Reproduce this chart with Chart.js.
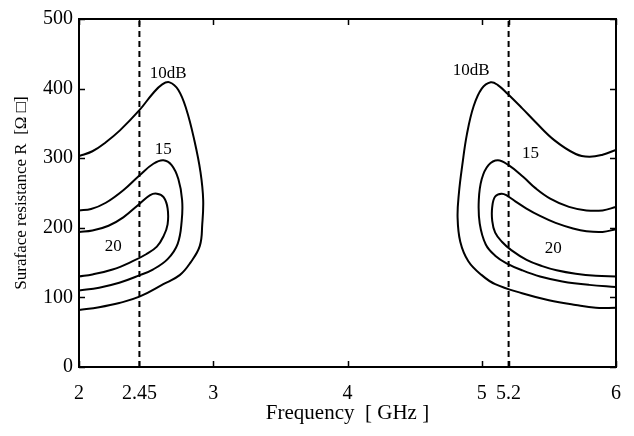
<!DOCTYPE html>
<html>
<head>
<meta charset="utf-8">
<script src="https://cdn.jsdelivr.net/npm/chart.js@4.4.1/dist/chart.umd.min.js"></script>
<style>
    html, body { margin: 0; padding: 0; background: #fff; }
    #contenedor { width: 634px; height: 436px; position: relative; }
</style>
</head>
<body>
<div id="contenedor"><canvas id="contornoChart"></canvas></div>
<script>
/**
 * Contornos de reflexion (10, 15, 20 dB) vs frecuencia y resistencia superficial
 */

// Ejes
const ticksFrecuencia = [2, 2.45, 3, 4, 5, 5.2, 6];
const ticksResistencia = [0, 100, 200, 300, 400, 500];
const marcasFrecuencia = [2.45, 5.2];

// Contornos banda baja [GHz, ohm]
const izq10dB = [[2.0, 303], [2.1, 310], [2.2, 323], [2.305, 340], [2.45, 369], [2.55, 393], [2.62, 406],
    [2.675, 409], [2.74, 398], [2.8, 370], [2.86, 325], [2.905, 280], [2.925, 240], [2.918, 205],
    [2.9, 174], [2.83, 150], [2.75, 132], [2.628, 119], [2.45, 101], [2.3, 92], [2.15, 86], [2.0, 82]];
const izq15dB = [[2.0, 225], [2.09, 227], [2.2, 236], [2.33, 254], [2.454, 276], [2.554, 292], [2.628, 297],
    [2.69, 290], [2.74, 270], [2.768, 240], [2.765, 210], [2.735, 177], [2.66, 155], [2.55, 140],
    [2.454, 132], [2.3, 121], [2.15, 114], [2.0, 110]];
const izq20dB = [[2.0, 194], [2.1, 196], [2.22, 203], [2.33, 215], [2.454, 235], [2.53, 247], [2.58, 249],
    [2.63, 244], [2.66, 228], [2.66, 205], [2.63, 188], [2.58, 173], [2.5, 162], [2.4, 152], [2.25, 140],
    [2.1, 133], [2.0, 130]];

// Contornos banda alta [GHz, ohm]
const der10dB = [[6.0, 312], [5.9, 305], [5.8, 302], [5.7, 306], [5.54, 326], [5.4, 352], [5.3, 372],
    [5.19, 393], [5.12, 405], [5.067, 409], [5.0, 400], [4.94, 375], [4.89, 335], [4.855, 290],
    [4.83, 250], [4.82, 215], [4.84, 180], [4.9, 152], [5.0, 132], [5.1, 119], [5.3, 106], [5.5, 96],
    [5.7, 89], [5.85, 85], [6.0, 85]];
const der15dB = [[6.0, 230], [5.9, 225], [5.78, 225], [5.65, 230], [5.51, 242], [5.4, 257], [5.31, 273],
    [5.2, 290], [5.12, 297], [5.05, 290], [5.0, 270], [4.978, 240], [4.985, 206], [5.03, 176], [5.1, 160],
    [5.185, 149], [5.3, 139], [5.434, 130], [5.6, 123], [5.8, 118], [6.0, 115]];
const der20dB = [[6.0, 198], [5.9, 194], [5.78, 195], [5.68, 199], [5.55, 207], [5.434, 217], [5.33, 228],
    [5.25, 238], [5.19, 246], [5.148, 249], [5.1, 245], [5.078, 230], [5.078, 210], [5.1, 193], [5.15, 180],
    [5.22, 168], [5.334, 154], [5.45, 145], [5.557, 139], [5.7, 134], [5.85, 131], [6.0, 130]];

// Etiquetas de los contornos [texto, GHz, ohm]
const etiquetas = [['10dB', 2.665, 422], ['15', 2.628, 313], ['20', 2.256, 173],
    ['10dB', 4.922, 426], ['15', 5.364, 307], ['20', 5.533, 170]];

const fuenteSerif = '"Liberation Serif", "Times New Roman", serif';

function aPuntos(arr) {
    return arr.map(p => ({ x: p[0], y: p[1] }));
}

function datasetContorno(arr) {
    return {
        data: aPuntos(arr),
        showLine: true,
        borderColor: '#000',
        borderWidth: 2,
        pointRadius: 0,
        tension: 0.4,
        fill: false
    };
}

function datasetMarca(f) {
    return {
        data: [{ x: f, y: ticksResistencia[0] }, { x: f, y: ticksResistencia[ticksResistencia.length - 1] }],
        showLine: true,
        borderColor: '#000',
        borderWidth: 2,
        borderDash: [6, 4],
        pointRadius: 0,
        tension: 0
    };
}

// Marco, ticks hacia adentro y etiquetas de contorno
const marcoPlugin = {
    id: 'marco',
    afterDatasetsDraw(chart) {
        const { ctx, chartArea: a, scales: { x, y } } = chart;
        const largo = 6;
        ctx.save();
        ctx.strokeStyle = '#000';
        ctx.lineWidth = 1.5;
        ctx.beginPath();
        ticksFrecuencia.forEach(v => {
            const px = Math.round(x.getPixelForValue(v)) + 0.5;
            ctx.moveTo(px, a.bottom); ctx.lineTo(px, a.bottom - largo);
            ctx.moveTo(px, a.top); ctx.lineTo(px, a.top + largo);
        });
        ticksResistencia.forEach(v => {
            const py = Math.round(y.getPixelForValue(v)) + 0.5;
            ctx.moveTo(a.left, py); ctx.lineTo(a.left + largo, py);
            ctx.moveTo(a.right, py); ctx.lineTo(a.right - largo, py);
        });
        ctx.stroke();

        ctx.lineWidth = 2;
        ctx.strokeRect(a.left, a.top, a.right - a.left, a.bottom - a.top);

        ctx.fillStyle = '#000';
        ctx.font = '17px ' + fuenteSerif;
        ctx.textAlign = 'center';
        ctx.textBaseline = 'middle';
        etiquetas.forEach(e => {
            ctx.fillText(e[0], x.getPixelForValue(e[1]), y.getPixelForValue(e[2]));
        });
        ctx.restore();
    }
};

function crearGrafico() {
    const ctx = document.getElementById('contornoChart').getContext('2d');

    const datasets = [izq10dB, izq15dB, izq20dB, der10dB, der15dB, der20dB].map(datasetContorno)
        .concat(marcasFrecuencia.map(datasetMarca));

    new Chart(ctx, {
        type: 'scatter',
        data: { datasets: datasets },
        options: {
            responsive: true,
            maintainAspectRatio: false,
            animation: false,
            layout: { padding: { left: 0, right: 18, top: 19, bottom: 0 } },
            plugins: {
                legend: { display: false },
                tooltip: { enabled: false }
            },
            scales: {
                x: {
                    type: 'linear',
                    min: 2,
                    max: 6,
                    grid: { display: false, drawTicks: false },
                    border: { display: false },
                    afterBuildTicks: scale => {
                        scale.ticks = ticksFrecuencia.map(v => ({ value: v }));
                    },
                    afterFit: scale => {
                        scale.height = 69;
                        scale.paddingLeft = 0;
                        scale.paddingRight = 0;
                    },
                    ticks: {
                        autoSkip: false,
                        maxRotation: 0,
                        padding: 15,
                        color: '#000',
                        font: { family: fuenteSerif, size: 20 },
                        callback: v => String(v)
                    },
                    title: {
                        display: true,
                        text: 'Frequency  [ GHz ]',
                        color: '#000',
                        font: { family: fuenteSerif, size: 21 },
                        padding: { top: 0, bottom: 10 }
                    }
                },
                y: {
                    type: 'linear',
                    min: 0,
                    max: 500,
                    grid: { display: false, drawTicks: false },
                    border: { display: false },
                    afterBuildTicks: scale => {
                        scale.ticks = ticksResistencia.map(v => ({ value: v }));
                    },
                    afterFit: scale => {
                        scale.width = 79;
                        scale.paddingTop = 0;
                        scale.paddingBottom = 0;
                    },
                    ticks: {
                        padding: 6,
                        color: '#000',
                        font: { family: fuenteSerif, size: 20 },
                        callback: v => String(v)
                    },
                    title: {
                        display: true,
                        text: 'Suraface resistance R  [\u03A9 \u25A1]',
                        color: '#000',
                        font: { family: fuenteSerif, size: 17 },
                        padding: { top: 11, bottom: 0 }
                    }
                }
            }
        },
        plugins: [marcoPlugin]
    });
}

crearGrafico();
</script>
</body>
</html>
